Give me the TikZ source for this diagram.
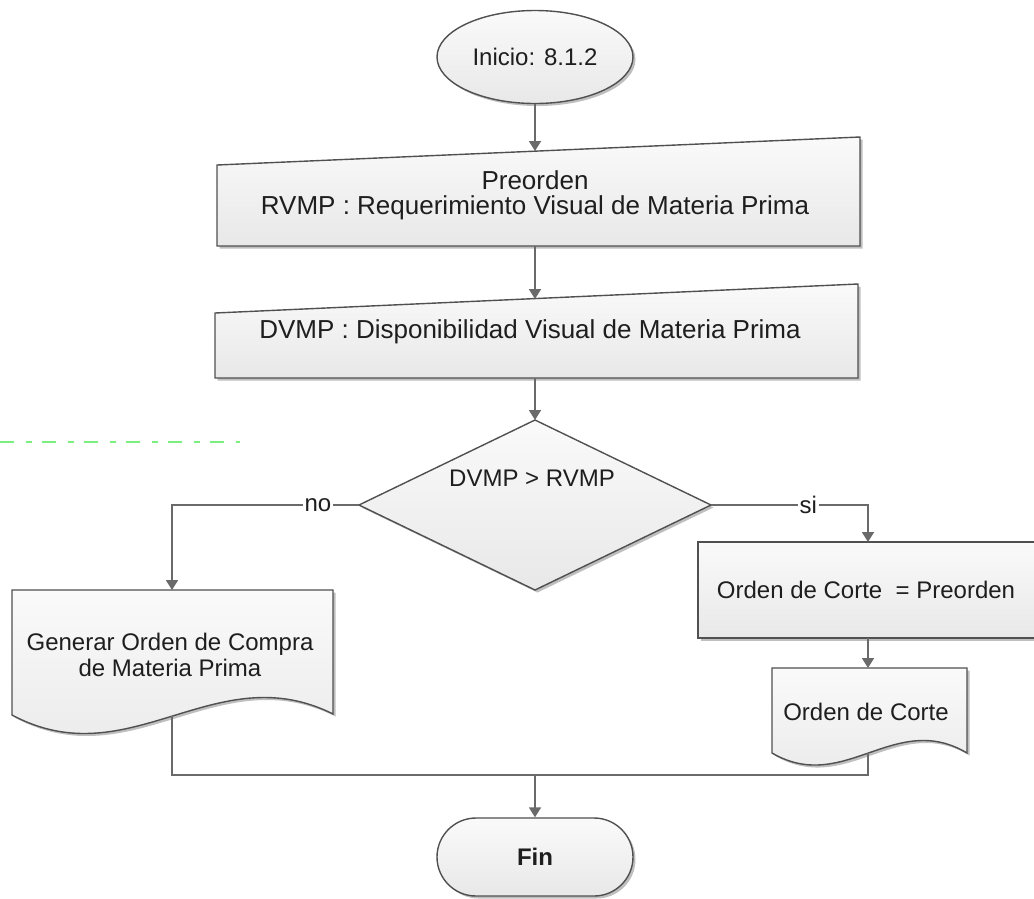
\documentclass[tikz,border=0pt]{standalone}
\usepackage{fontspec}
\setmainfont{Liberation Sans}
\usetikzlibrary{arrows.meta,shapes.geometric,shadows}
\definecolor{edge}{HTML}{505050}
\definecolor{wirec}{HTML}{6A6A6A}
\definecolor{ink}{HTML}{1E1E1E}
\definecolor{guide}{HTML}{7CF07C}

\tikzset{
  box/.style={draw=edge, line width=1.4pt, top color=white!98!black, bottom color=black!9,
    drop shadow={shadow xshift=2.5pt, shadow yshift=-2.5pt, fill=black!25, opacity=1}},
  lbl/.style={text=ink, font=\fontsize{24}{26}\selectfont, align=center, inner sep=0pt},
  widelbl/.style={lbl, font=\fontsize{26}{25}\selectfont},
  wire/.style={draw=wirec, line width=1.8pt},
  flow/.style={wire, -{Triangle[width=12pt,length=10pt]}},
  tag/.style={lbl, fill=white, inner sep=1.5pt},
}

\begin{document}
\begin{tikzpicture}[x=1pt,y=-1pt]
\useasboundingbox (0,0) rectangle (1034,898);
\clip (0,0) rectangle (1034,898);

% faint guide line on the left
\draw[guide, line width=1.2pt, dash pattern=on 14pt off 12pt on 6pt off 10pt] (0,442) -- (240,442);

% start terminator
\node[box, ellipse, minimum width=196pt, minimum height=93pt, lbl] (start) at (535,57) {Inicio: 8.1.2};

% manual input: preorden
\draw[box] (217,165) -- (860,137) -- (860,246) -- (217,246) -- cycle;
\node[widelbl] (pre) at (535,195) {Preorden\\RVMP : Requerimiento Visual de Materia Prima};
\coordinate (b1top) at (535,151);
\coordinate (b1bot) at (535,246);

% manual input: availability
\draw[box] (215,313) -- (858,284) -- (858,378) -- (215,378) -- cycle;
\node[widelbl] (dvmp) at (530,332) {DVMP : Disponibilidad Visual de Materia Prima};
\coordinate (b2top) at (535,299);
\coordinate (b2bot) at (535,378);

% decision
\draw[box] (535,420) -- (711,505) -- (535,590) -- (359,505) -- cycle;
\node[lbl] (cond) at (532,478) {DVMP > RVMP};
\coordinate (dtop) at (535,420);
\coordinate (dleft) at (359,505);
\coordinate (dright) at (711,505);

% document: purchase order
\draw[box] (12,590) -- (333,590) -- (333,714) .. controls (215,655) and (130,778) .. (12,715) -- cycle;
\node[lbl] (buy) at (170,655) {Generar Orden de Compra\\de Materia Prima};
\coordinate (buytop) at (172,590);
\coordinate (buybot) at (172,716);

% process: cut order
\draw[box] (698,542) rectangle (1050,638);
\node[lbl] (cut) at (866,590) {Orden de Corte~ = Preorden};
\coordinate (cuttop) at (868,542);
\coordinate (cutbot) at (868,638);

% document: cut order
\draw[box] (772,668) -- (967,668) -- (967,753) .. controls (895,710) and (844,795) .. (772,753) -- cycle;
\node[lbl] (cutdoc) at (866,712) {Orden de Corte};
\coordinate (cdtop) at (868,668);
\coordinate (cdbot) at (868,753);

% end terminator
\node[box, rounded corners=39pt, minimum width=196pt, minimum height=78pt, lbl, font=\fontsize{24}{26}\selectfont\bfseries] (fin) at (535,857) {Fin};
\coordinate (join) at (535,775);

% connectors
\draw[flow] (start.south) -- (b1top);
\draw[flow] (b1bot) -- (b2top);
\draw[flow] (b2bot) -- (dtop);
\draw[flow] (dleft) -| node[tag, pos=0.11] {no} (buytop);
\draw[flow] (dright) -| node[tag, pos=0.31] {si} (cuttop);
\draw[flow] (cutbot) -- (cdtop);
\draw[wire] (buybot) |- (join) -| (cdbot);
\draw[flow] (join) -- (fin.north);
\end{tikzpicture}
\end{document}
